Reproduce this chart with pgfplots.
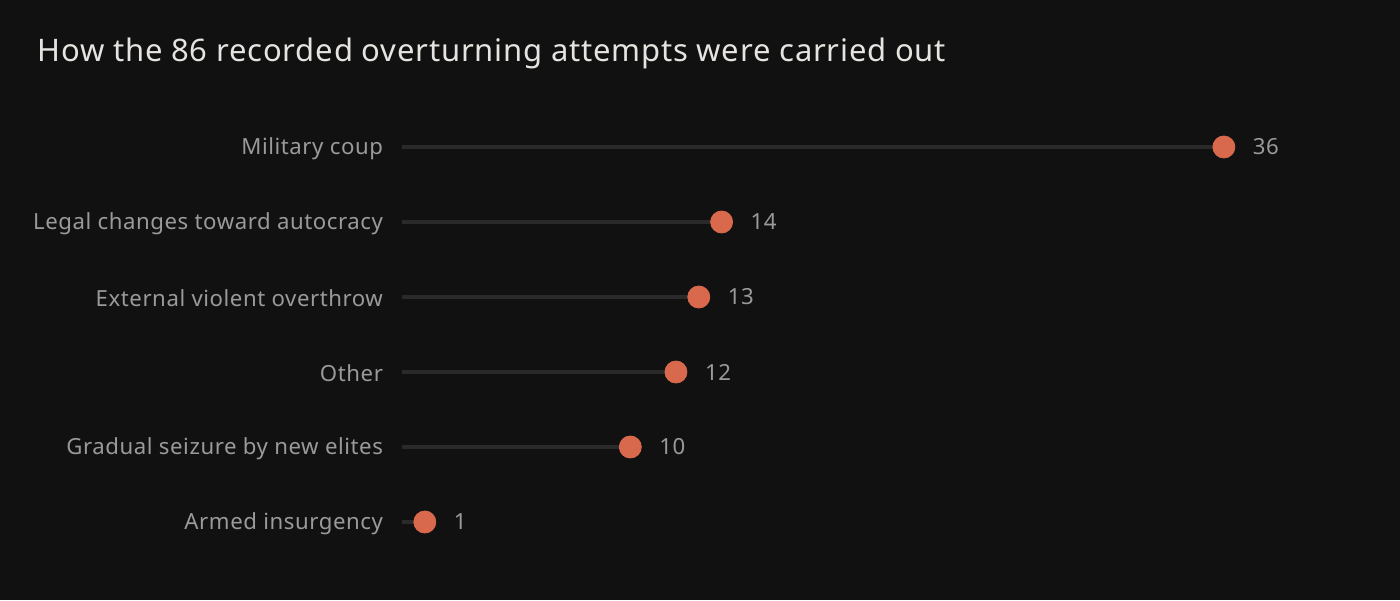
\documentclass[border=0pt]{standalone}
\usepackage{fontspec}
\setmainfont{Noto Sans}[LetterSpace=2.5]
\usepackage{pgfplots}
\pgfplotsset{compat=1.18}
\definecolor{bg}{HTML}{111111}
\definecolor{stem}{HTML}{2A2A2A}
\definecolor{dot}{HTML}{D9694C}
\definecolor{lab}{HTML}{9A9A9A}
\definecolor{titlec}{HTML}{E6E4E0}
\begin{document}
\begin{tikzpicture}[x=1pt,y=1pt]
\fill[bg] (0,0) rectangle (700,300);
\path[use as bounding box] (0,0) rectangle (700,300);
\node[anchor=base west, inner sep=0pt, text=titlec, font=\fontsize{15.5}{17}\selectfont] at (18.5,269) {How the 86 recorded overturning attempts were carried out};
\begin{axis}[
  at={(201pt,20.25pt)}, anchor=south west,
  scale only axis, width=456.6pt, height=225pt,
  xmin=0, xmax=40, ymin=-0.5, ymax=5.5, y dir=reverse,
  axis line style={draw=none},
  xtick=\empty, ytick={0,1,2,3,4,5},
  yticklabels={Military coup, Legal changes toward autocracy, External violent overthrow, Other, Gradual seizure by new elites, Armed insurgency},
  major tick length=0pt,
  yticklabel style={text=lab, font=\fontsize{11.1}{12}\selectfont, anchor=east, xshift=-6pt, yshift=-0.7pt},
  clip=false,
]
\addplot[xcomb, draw=stem, line width=2pt] coordinates {
  (36,0) (14,1) (13,2) (12,3) (10,4) (1,5)
};
\addplot[only marks, mark=*, mark size=5.5pt, mark options={fill=dot, draw=dot},
  point meta=explicit symbolic, nodes near coords,
  every node near coord/.style={anchor=west, xshift=11pt, text=lab, font=\fontsize{11.1}{12}\selectfont}]
  coordinates {
  (36,0) [36] (14,1) [14] (13,2) [13] (12,3) [12] (10,4) [10] (1,5) [1]
};
\end{axis}
\end{tikzpicture}
\end{document}
